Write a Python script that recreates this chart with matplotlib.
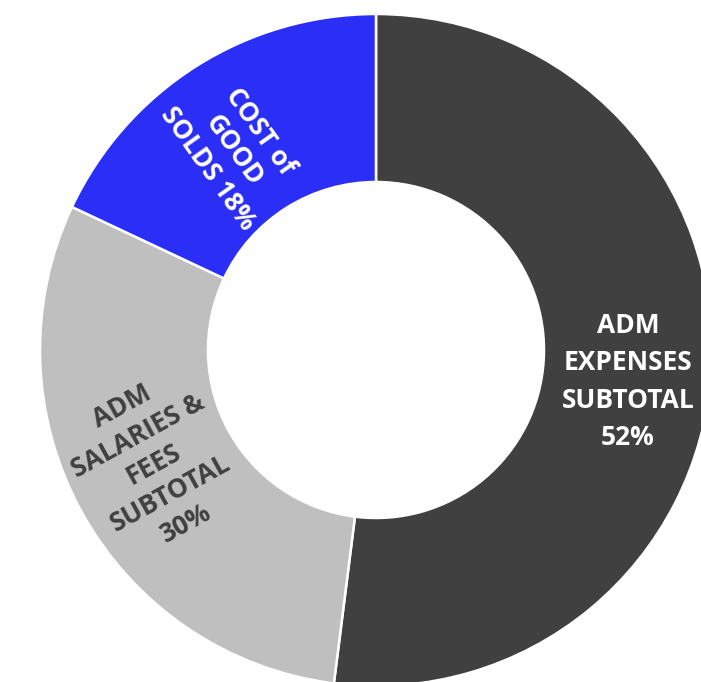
import numpy as np
import matplotlib.pyplot as plt

# Data
categories = ['ADM\nEXPENSES\nSUBTOTAL', 'ADM\nSALARIES &\nFEES\nSUBTOTAL', 'COST of\nGOOD\nSOLDS ']
shares = [52, 30, 18]
colors = ['#404040', '#bfbfbf', '#2b2ef6']
text_colors = ['white', '#404040', 'white']

plt.rcParams['font.family'] = ['Open Sans', 'DejaVu Sans']

fig = plt.figure(figsize=(7.01, 6.82), dpi=100)
ax = fig.add_axes([0, 0, 1, 1])

# sizes in pixels (axes limits are set 1 unit = 1 px)
cx, cy = 376, 350
outer_r = 336
ring_w = 168
wedges, _ = ax.pie(shares, colors=colors, startangle=90, counterclock=False,
                   radius=outer_r,
                   wedgeprops=dict(width=ring_w, edgecolor='white', linewidth=1.8))

# label placement tweaks (radius, angle offset, rotation offset)
label_r = [254, 250, 245]
angle_adj = [-3.5, -1.5, 3.0]
rot_adj = [None, 0, 3]
sizes = [19, 19, 19]
spacing = [1.5, 1.3, 1.25]
for i, w in enumerate(wedges):
    mid = (w.theta1 + w.theta2) / 2 + angle_adj[i]
    x = label_r[i] * np.cos(np.radians(mid))
    y = label_r[i] * np.sin(np.radians(mid))
    if i == 2:
        txt = f'{categories[i]}{shares[i]}%'
    else:
        txt = f'{categories[i]}\n{shares[i]}%'
    rot = 0 if rot_adj[i] is None else (w.theta1 + w.theta2) / 2 - 180 + rot_adj[i]
    ax.text(x, y, txt, ha='center', va='center', rotation=rot,
            rotation_mode='anchor', color=text_colors[i], fontsize=sizes[i],
            fontweight='bold', linespacing=spacing[i])

# crop the view like the original image
ax.set_xlim(-cx, 701 - cx)
ax.set_ylim(-(682 - cy), cy)
ax.set_aspect('auto')
ax.axis('off')

fig.savefig('out.png', dpi=100)
